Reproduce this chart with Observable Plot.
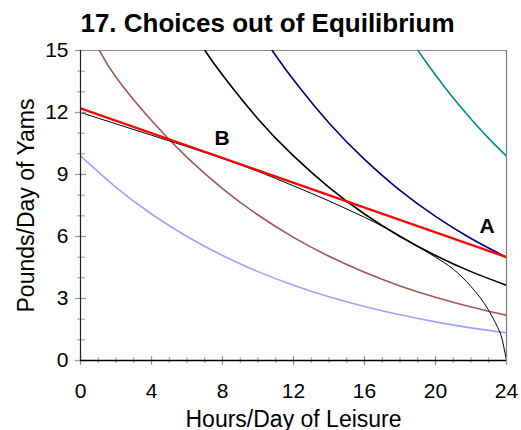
<!DOCTYPE html>
<html>
<head>
<meta charset="utf-8">
<script src="https://cdn.jsdelivr.net/npm/d3@7"></script>
<script src="https://cdn.jsdelivr.net/npm/@observablehq/plot@0.6"></script>
<style>
  html, body { margin: 0; padding: 0; background: #fff; }
</style>
</head>
<body>
<div id="chart"></div>
<script>
// ---- data ----
const title = "17. Choices out of Equilibrium";
const xLabel = "Hours/Day of Leisure";
const yLabel = "Pounds/Day of Yams";

const xMajorTicks = [0, 4, 8, 12, 16, 20, 24];
const yMajorTicks = [0, 3, 6, 9, 12, 15];
const xMinorTicks = d3.range(0, 25, 1);
const yMinorTicks = d3.range(0, 16, 1);

// indifference curves
const icLightBlueX = [0, 2, 4, 6, 8, 10, 12, 14, 16, 18, 20, 22, 24];
const icLightBlueY = [9.9, 8.38, 7.09, 6.0, 5.08, 4.3, 3.64, 3.08, 2.61, 2.21, 1.87, 1.58, 1.34];
const icBrownX = [1.07, 2, 4, 6, 8, 10, 12, 14, 16, 18, 20, 22, 24];
const icBrownY = [15, 13.71, 11.61, 9.83, 8.32, 7.04, 5.96, 5.04, 4.27, 3.61, 3.06, 2.59, 2.19];
const icBlackX = [7.01, 8, 10, 12, 14, 16, 18, 20, 22, 24];
const icBlackY = [15, 13.81, 11.69, 9.9, 8.38, 7.09, 6.0, 5.08, 4.3, 3.64];
const icNavyX = [10.8, 12, 14, 16, 18, 20, 22, 24];
const icNavyY = [15, 13.58, 11.49, 9.73, 8.23, 6.97, 5.9, 4.99];
const icTealX = [19.01, 20, 21, 22, 23, 24];
const icTealY = [15, 13.81, 12.7, 11.69, 10.75, 9.89];

// production possibilities frontier
const ppfX = [0, 2, 4, 6, 8, 10, 12, 14, 15, 16, 17, 18, 19, 20, 21, 22, 23, 23.5, 23.7, 23.85, 24];
const ppfY = [12.0, 11.45, 10.9, 10.35, 9.77, 9.15, 8.45, 7.72, 7.33, 6.93, 6.5, 6.03, 5.52, 5.0, 4.42, 3.58, 2.42, 1.6, 1.2, 0.65, 0];

// price (budget) line
const priceX = [0, 24];
const priceY = [12.2, 5.0];

// point labels
const pointNames = ["A", "B"];
const pointX = [22.91, 7.98];
const pointY = [6.48, 10.77];

// ---- build ----
const zip = (xs, ys) => xs.map((x, i) => ({x, y: ys[i]}));
const curves = [
  {data: zip(icLightBlueX, icLightBlueY), stroke: "#a0a0ff", w: 1.6},
  {data: zip(icBrownX, icBrownY), stroke: "#a35656", w: 1.6},
  {data: zip(icBlackX, icBlackY), stroke: "#000000", w: 1.6},
  {data: zip(icNavyX, icNavyY), stroke: "#00007f", w: 1.6},
  {data: zip(icTealX, icTealY), stroke: "#008c8c", w: 1.6}
];
const labels = pointNames.map((t, i) => ({t, x: pointX[i], y: pointY[i]}));
const font = "'Liberation Sans', Arial, Helvetica, sans-serif";

const W = 521, H = 430, mL = 80, mR = 15, mT = 50, mB = 70;
const fw = W - mL - mR, fh = H - mT - mB;

const chart = Plot.plot({
  width: W,
  height: H,
  marginLeft: mL,
  marginRight: mR,
  marginTop: mT,
  marginBottom: mB,
  x: {domain: [0, 24], axis: null},
  y: {domain: [0, 15], axis: null},
  style: {fontFamily: font, fontSize: "21px", background: "#fff", color: "#000", overflow: "visible"},
  marks: [
    // frame: gray top & right
    Plot.ruleY([15], {stroke: "#8a8a8a", strokeWidth: 1}),
    Plot.ruleX([24], {stroke: "#7a7a7a", strokeWidth: 1.2}),
    // curves
    ...curves.map(c => Plot.line(c.data, {x: "x", y: "y", stroke: c.stroke, strokeWidth: c.w, curve: "natural", clip: true})),
    Plot.line(zip(ppfX, ppfY), {x: "x", y: "y", stroke: "#000", strokeWidth: 1, curve: "monotone-x", clip: true}),
    Plot.line(zip(priceX, priceY), {x: "x", y: "y", stroke: "#ff0000", strokeWidth: 2.2, clip: true}),
    // minor & major ticks crossing the axes
    Plot.tickX(xMinorTicks, {x: d => d, stroke: "#999", strokeWidth: 1, insetTop: fh - 3, insetBottom: -3}),
    Plot.tickX(xMajorTicks, {x: d => d, stroke: "#999", strokeWidth: 1.3, insetTop: fh - 4, insetBottom: -5}),
    Plot.tickY(yMinorTicks, {y: d => d, stroke: "#999", strokeWidth: 1, insetLeft: -3, insetRight: fw - 5}),
    Plot.tickY(yMajorTicks, {y: d => d, stroke: "#999", strokeWidth: 1.3, insetLeft: -5, insetRight: fw - 6}),
    // axis lines
    Plot.ruleY([0], {stroke: "#000", strokeWidth: 1.5}),
    Plot.ruleX([0], {stroke: "#222", strokeWidth: 1.2}),
    // tick labels
    Plot.text(xMajorTicks, {x: d => d, text: d => String(d), frameAnchor: "bottom", dy: 23, lineAnchor: "top", fontSize: 21, fill: "#000"}),
    Plot.text(yMajorTicks, {y: d => d, text: d => String(d), frameAnchor: "left", dx: -12, textAnchor: "end", lineAnchor: "middle", fontSize: 21, fill: "#000"}),
    // axis labels
    Plot.text([xLabel], {text: d => d, frameAnchor: "bottom", dy: 66, lineAnchor: "bottom", textAnchor: "middle", fontSize: 23, fill: "#000"}),
    Plot.text([yLabel], {text: d => d, frameAnchor: "left", dx: -47, rotate: -90, lineAnchor: "bottom", textAnchor: "middle", fontSize: 23, fill: "#000"}),
    // title
    Plot.text([title], {text: d => d, frameAnchor: "top", dx: -26, dy: -19, lineAnchor: "bottom", textAnchor: "middle", fontSize: 26, fontWeight: "bold", fill: "#000"}),
    // point labels
    Plot.text(labels, {x: "x", y: "y", text: "t", fontSize: 21, fontWeight: "bold", fill: "#000", lineAnchor: "middle", textAnchor: "middle"})
  ]
});
document.getElementById("chart").appendChild(chart);
</script>
</body>
</html>
